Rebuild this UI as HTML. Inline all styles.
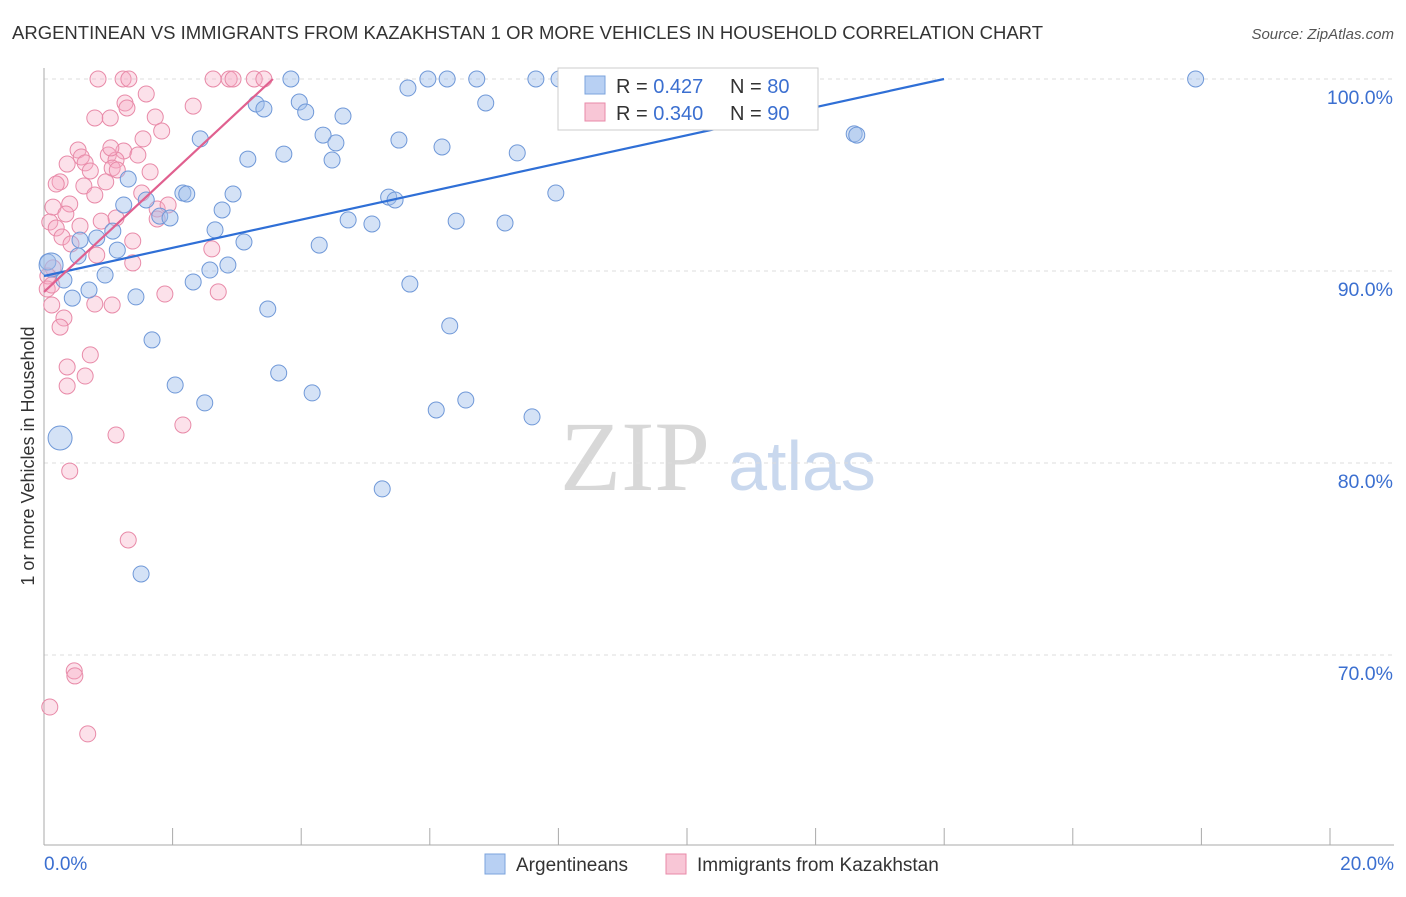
<!DOCTYPE html>
<html><head><meta charset="utf-8">
<style>
body{margin:0;background:#fff;font-family:"Liberation Sans",sans-serif;}
svg text{font-family:"Liberation Sans",sans-serif;}
</style></head>
<body>
<svg id="chart" width="1406" height="892" viewBox="0 0 1406 892">
<text x="12" y="39" font-size="18.5" fill="#333">ARGENTINEAN VS IMMIGRANTS FROM KAZAKHSTAN 1 OR MORE VEHICLES IN HOUSEHOLD CORRELATION CHART</text>
<text x="1394" y="39" font-size="15" fill="#555" font-style="italic" text-anchor="end">Source: ZipAtlas.com</text>
<text x="34" y="456" font-size="18" fill="#333" text-anchor="middle" transform="rotate(-90 34 456)">1 or more Vehicles in Household</text>
<g>
<text x="635" y="490" font-size="100" fill="#d8d8d8" style="font-family:'Liberation Serif',serif" text-anchor="middle">ZIP</text>
<text x="802" y="490" font-size="70" fill="#c9d8ee" text-anchor="middle">atlas</text>
</g>
<g id="grid"></g>
<g id="axes"></g>
<g id="pts"></g>
<g id="lines"></g>
<g>
<rect x="558" y="68" width="260" height="62" fill="#fff" stroke="#ccc"/>
<rect x="585" y="76" width="20" height="18" fill="#b8d0f3" stroke="#7ba3dd"/>
<text x="616" y="93" font-size="20" fill="#333">R = <tspan fill="#3b6fd0">0.427</tspan></text>
<text x="730" y="93" font-size="20" fill="#333">N = <tspan fill="#3b6fd0">80</tspan></text>
<rect x="585" y="103" width="20" height="18" fill="#f8c6d6" stroke="#e88aa8"/>
<text x="616" y="120" font-size="20" fill="#333">R = <tspan fill="#3b6fd0">0.340</tspan></text>
<text x="730" y="120" font-size="20" fill="#333">N = <tspan fill="#3b6fd0">90</tspan></text>
</g>
<g>
<rect x="485" y="854" width="20" height="20" fill="#b8d0f3" stroke="#7ba3dd"/>
<text x="516" y="871" font-size="19" fill="#333">Argentineans</text>
<rect x="666" y="854" width="20" height="20" fill="#f8c6d6" stroke="#e88aa8"/>
<text x="697" y="871" font-size="19" fill="#333">Immigrants from Kazakhstan</text>
</g>
</svg>
<script>
const blueX=[17.91,3.84,5.97,6.27,6.73,7.65,8.01,8.21,8.96,9.27,10.39,5.66,3.97,3.30,3.42,6.87,4.07,4.65,12.60,12.64,4.34,4.54,2.43,5.52,6.19,7.36,3.73,3.17,4.48,1.31,2.16,2.22,2.94,5.36,5.46,7.96,1.24,1.59,2.77,1.80,1.96,4.73,5.10,6.41,7.17,2.66,1.07,0.82,3.11,4.28,0.56,1.14,0.06,0.53,2.86,2.58,0.95,0.31,2.32,5.69,0.70,0.44,1.43,3.48,6.31,1.68,3.65,2.04,4.17,2.50,6.56,6.10,7.59,0.25,5.26,1.51,0.11];
const blueY=[100,100,100,100,100,100,100,100,100,100,100,99.53,98.80,98.70,98.44,98.75,98.28,98.07,97.14,97.08,97.08,96.67,96.88,96.82,96.46,96.15,96.09,95.83,95.78,94.79,94.06,94.01,94.01,93.85,93.70,94.06,93.44,93.70,93.18,92.86,92.76,92.66,92.45,92.60,92.50,92.14,92.08,91.72,91.51,91.35,91.61,91.09,90.47,90.78,90.31,90.05,89.79,89.53,89.43,89.32,89.01,88.59,88.65,88.02,87.14,86.41,84.69,84.06,83.65,83.13,83.28,82.76,82.40,81.30,78.65,74.22,90.31];
const blueBig=[73,76];
const pinkX=[0.84,1.23,1.32,2.63,2.88,2.94,3.27,3.42,1.59,1.26,2.32,1.29,1.73,0.79,1.03,1.83,1.54,0.53,1.00,0.58,1.24,1.12,0.36,0.64,1.46,1.06,0.72,1.14,0.25,0.96,0.19,0.62,1.52,0.79,0.40,0.14,1.76,0.34,1.12,0.89,0.09,0.56,1.76,0.19,0.28,1.38,0.42,2.61,0.82,1.38,0.14,0.06,0.05,0.12,2.71,1.88,0.79,1.06,0.12,0.31,0.25,0.72,0.36,0.64,0.36,2.16,1.12,0.40,1.31,0.47,0.48,0.09,0.68,1.04,1.65,1.93];
const pinkY=[100,100,100,100,100,100,100,100,99.22,98.75,98.59,98.49,98.02,97.97,97.97,97.29,96.88,96.30,96.04,95.94,96.25,95.78,95.57,95.63,96.04,95.36,95.21,95.26,94.64,94.64,94.53,94.43,94.06,93.96,93.49,93.33,93.23,92.97,92.76,92.60,92.55,92.34,92.71,92.24,91.77,91.56,91.41,91.15,90.83,90.42,90.16,89.74,89.06,89.27,88.91,88.80,88.28,88.23,88.23,87.55,87.08,85.63,85.00,84.53,84.01,81.98,81.46,79.58,75.99,69.17,68.91,67.29,65.89,96.41,95.16,93.44];
const trendBlue=[89.74,0.733];
const trendPink=[88.91,3.115];
const yTicks=[100,90,80,70];
const xTicks=[0,2,4,6,8,10,12,14,16,18,20];
const NS='http://www.w3.org/2000/svg';
const X=v=>44+v/20*1286;
const Y=v=>79+(100-v)*19.2;
function mk(tag,attrs,parent){const e=document.createElementNS(NS,tag);for(const k in attrs)e.setAttribute(k,attrs[k]);parent.appendChild(e);return e;}
const grid=document.getElementById('grid'),axes=document.getElementById('axes'),pts=document.getElementById('pts'),lines=document.getElementById('lines');
yTicks.forEach(t=>{
 const l=mk('line',{x1:44,x2:1394,y1:Y(t),y2:Y(t),stroke:'#ddd','stroke-dasharray':'4,4'},grid);
 
 
 const tx=mk('text',{x:1393,y:Y(t)+25,'font-size':19.5,fill:'#3b6fd0','text-anchor':'end'},axes);
 tx.textContent=t.toFixed(1)+'%';
 
 
});
const xa=mk('line',{x1:44,x2:1394,y1:845,y2:845,stroke:'#aaa'},axes);


const ya=mk('line',{x1:44,x2:44,y1:68,y2:845,stroke:'#aaa'},axes);


xTicks.forEach(t=>{
 const l=mk('line',{x1:X(t),x2:X(t),y1:828,y2:845,stroke:'#aaa'},axes);
 
 
});
[[0,'start',44],[20,'end',1394]].forEach(([t,a,x])=>{
 const tx=mk('text',{x:x,y:870,'font-size':19,fill:'#3b6fd0','text-anchor':a},axes);
 tx.textContent=t.toFixed(1)+'%';
 
 
});
pinkX.forEach((v,i)=>{
 const c=mk('circle',{cx:X(v),cy:Y(pinkY[i]),r:8,fill:'rgba(245,170,195,0.35)',stroke:'#e88aa8','stroke-width':1},pts);
 
 
});
blueX.forEach((v,i)=>{
 const big=blueBig.includes(i);
 const c=mk('circle',{cx:X(v),cy:Y(blueY[i]),r:big?12:8,fill:'rgba(160,190,235,0.45)',stroke:'#6f98d8','stroke-width':1},pts);
 
 
});
const bx2=(100-trendBlue[0])/trendBlue[1];
const bl=mk('line',{x1:X(0),y1:Y(trendBlue[0]),x2:X(bx2),y2:Y(100),stroke:'#2f6fd6','stroke-width':2.2},lines);


const px2=(100-trendPink[0])/trendPink[1];
const pl=mk('line',{x1:X(0),y1:Y(trendPink[0]),x2:X(px2),y2:Y(100),stroke:'#e0608f','stroke-width':2.2},lines);


</script>
</body></html>
